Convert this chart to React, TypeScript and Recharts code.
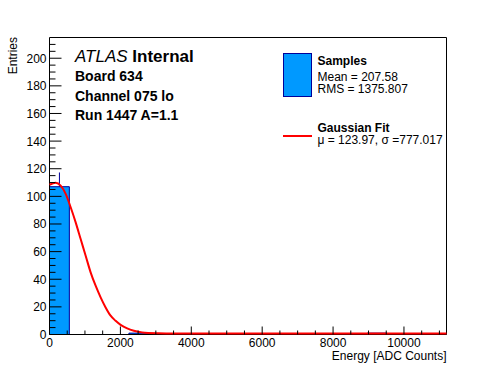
import React from 'react';
import { ComposedChart, Area, Line, Scatter, ErrorBar, XAxis, YAxis, ReferenceArea } from 'recharts';

// histogram bins (lower edges + final upper edge) and counts
const binEdges = [0, 560, 1120, 1680, 2240, 2800, 3360, 3920, 4480, 5040, 5600, 6160, 6720, 7280, 7840, 8400, 8960, 9520, 10080, 10640, 11200];
const binCounts = [107, 0, 0, 0, 1, 0, 0, 0, 0, 0, 0, 0, 0, 0, 0, 0, 1, 0, 0, 0];

// gaussian fit curve
const fitEnergy = [0, 174, 315, 456, 597, 738, 879, 1020, 1160, 1301, 1442, 1583, 1724, 1865, 2006, 2192, 2380, 2614, 3080, 3500, 11200];
const fitValue = [107.6, 109.1, 107, 101, 91.3, 80.4, 68.3, 56.2, 44.2, 34.5, 26.1, 18.8, 12.8, 9.1, 6.2, 3.6, 1.9, 0.7, 0.15, 0, 0];

// statistical error on the first bin
const errEnergy = [280];
const errValue = [107];
const errUp = [10.3];

const xTicks = [0, 500, 1000, 1500, 2000, 2500, 3000, 3500, 4000, 4500, 5000, 5500, 6000, 6500, 7000, 7500, 8000, 8500, 9000, 9500, 10000, 10500, 11000];
const yTicks = [0, 5, 10, 15, 20, 25, 30, 35, 40, 45, 50, 55, 60, 65, 70, 75, 80, 85, 90, 95, 100, 105, 110, 115, 120, 125, 130, 135, 140, 145, 150, 155, 160, 165, 170, 175, 180, 185, 190, 195, 200, 205, 210];

const infoLines = ['Board 634', 'Channel 075 lo', 'Run 1447 A=1.1'];

const FONT = '"Liberation Sans", Arial, sans-serif';
const FILL = '#0099ff';
const EDGE = '#000099';

const histData = binEdges.map((e, i) => ({ energy: e, entries: i < binCounts.length ? binCounts[i] : 0 }));
const fitData = fitEnergy.map((e, i) => ({ energy: e, fit: fitValue[i] }));
const errData = errEnergy.map((e, i) => ({ energy: e, entries: errValue[i], err: [0, errUp[i]] }));

const YTick = (props: any) => {
  const { x, y, payload } = props;
  const major = payload.value % 20 === 0;
  return (
    <g>
      <line x1={x} x2={x + (major ? 12 : 6)} y1={y} y2={y} stroke="#000" />
      {major && (
        <text x={x - 3} y={y + 4.5} textAnchor="end" fontSize={12} fontFamily={FONT} fill="#000">
          {payload.value}
        </text>
      )}
    </g>
  );
};

const XTick = (props: any) => {
  const { x, y, payload } = props;
  const major = payload.value % 2000 === 0;
  return (
    <g>
      <line x1={x} x2={x} y1={y} y2={y - (major ? 8 : 4)} stroke="#000" />
      {major && (
        <text x={x} y={y + 12.5} textAnchor="middle" fontSize={12} fontFamily={FONT} fill="#000">
          {payload.value}
        </text>
      )}
    </g>
  );
};

export default function App() {
  return (
    <div style={{ position: 'absolute', left: 0, top: 0, width: 496, height: 372, background: '#fff', fontFamily: FONT }}>
      <ComposedChart width={496} height={372} margin={{ top: 37.5, right: 49.5, bottom: 0, left: 0 }}>
        <XAxis
          dataKey="energy"
          type="number"
          domain={[0, 11200]}
          ticks={xTicks}
          interval={0}
          height={37.5}
          axisLine={false}
          tickLine={false}
          tickSize={0}
          tickMargin={0}
          tick={<XTick />}
        />
        <YAxis
          type="number"
          domain={[0, 215]}
          ticks={yTicks}
          interval={0}
          width={49.5}
          axisLine={false}
          tickLine={false}
          tickSize={0}
          tickMargin={0}
          tick={<YTick />}
        />
        {/* the fit curve sits ~1px above the histogram zero, like ROOT's drawing */}
        <YAxis yAxisId="fit" type="number" domain={[-0.8, 214.2]} hide />
        <Scatter data={errData} dataKey="entries" shape={() => <g />} isAnimationActive={false}>
          <ErrorBar dataKey="err" direction="y" width={0} stroke={EDGE} strokeWidth={1} isAnimationActive={false} />
        </Scatter>
        <Area
          data={histData}
          dataKey="entries"
          type="stepAfter"
          fill={FILL}
          fillOpacity={1}
          stroke={EDGE}
          strokeWidth={1}
          isAnimationActive={false}
        />
        <Line
          data={fitData}
          dataKey="fit"
          yAxisId="fit"
          type="monotone"
          stroke="#ff0000"
          strokeWidth={2}
          dot={false}
          isAnimationActive={false}
        />
        <ReferenceArea x1={0} x2={11200} y1={0} y2={215} fill="none" stroke="#000" strokeWidth={1} ifOverflow="visible" />
      </ComposedChart>
      <svg width={496} height={372} style={{ position: 'absolute', left: 0, top: 0, pointerEvents: 'none' }} fontFamily={FONT}>
        <text x={75} y={62} fontSize={17}>
          <tspan fontStyle="italic">ATLAS</tspan>
          <tspan fontWeight="bold"> Internal</tspan>
        </text>
        {infoLines.map((t, i) => (
          <text key={t} x={75} y={81 + i * 19.5} fontSize={14} fontWeight="bold">
            {t}
          </text>
        ))}
        <rect x={283.5} y={53.5} width={28} height={43} fill={FILL} stroke={EDGE} />
        <text x={317.5} y={65} fontSize={12} fontWeight="bold">Samples</text>
        <text x={317.5} y={80.5} fontSize={12}>Mean = 207.58</text>
        <text x={317.5} y={93} fontSize={12}>RMS = 1375.807</text>
        <line x1={283} x2={312} y1={136} y2={136} stroke="#ff0000" strokeWidth={2} />
        <text x={317.5} y={131.5} fontSize={12} fontWeight="bold">Gaussian Fit</text>
        <text x={317.5} y={144} fontSize={12}>μ = 123.97, σ =777.017</text>
        <text transform="translate(16.5,37) rotate(-90)" textAnchor="end" fontSize={12}>Entries</text>
        <text x={446.5} y={360} textAnchor="end" fontSize={12}>Energy [ADC Counts]</text>
      </svg>
    </div>
  );
}
